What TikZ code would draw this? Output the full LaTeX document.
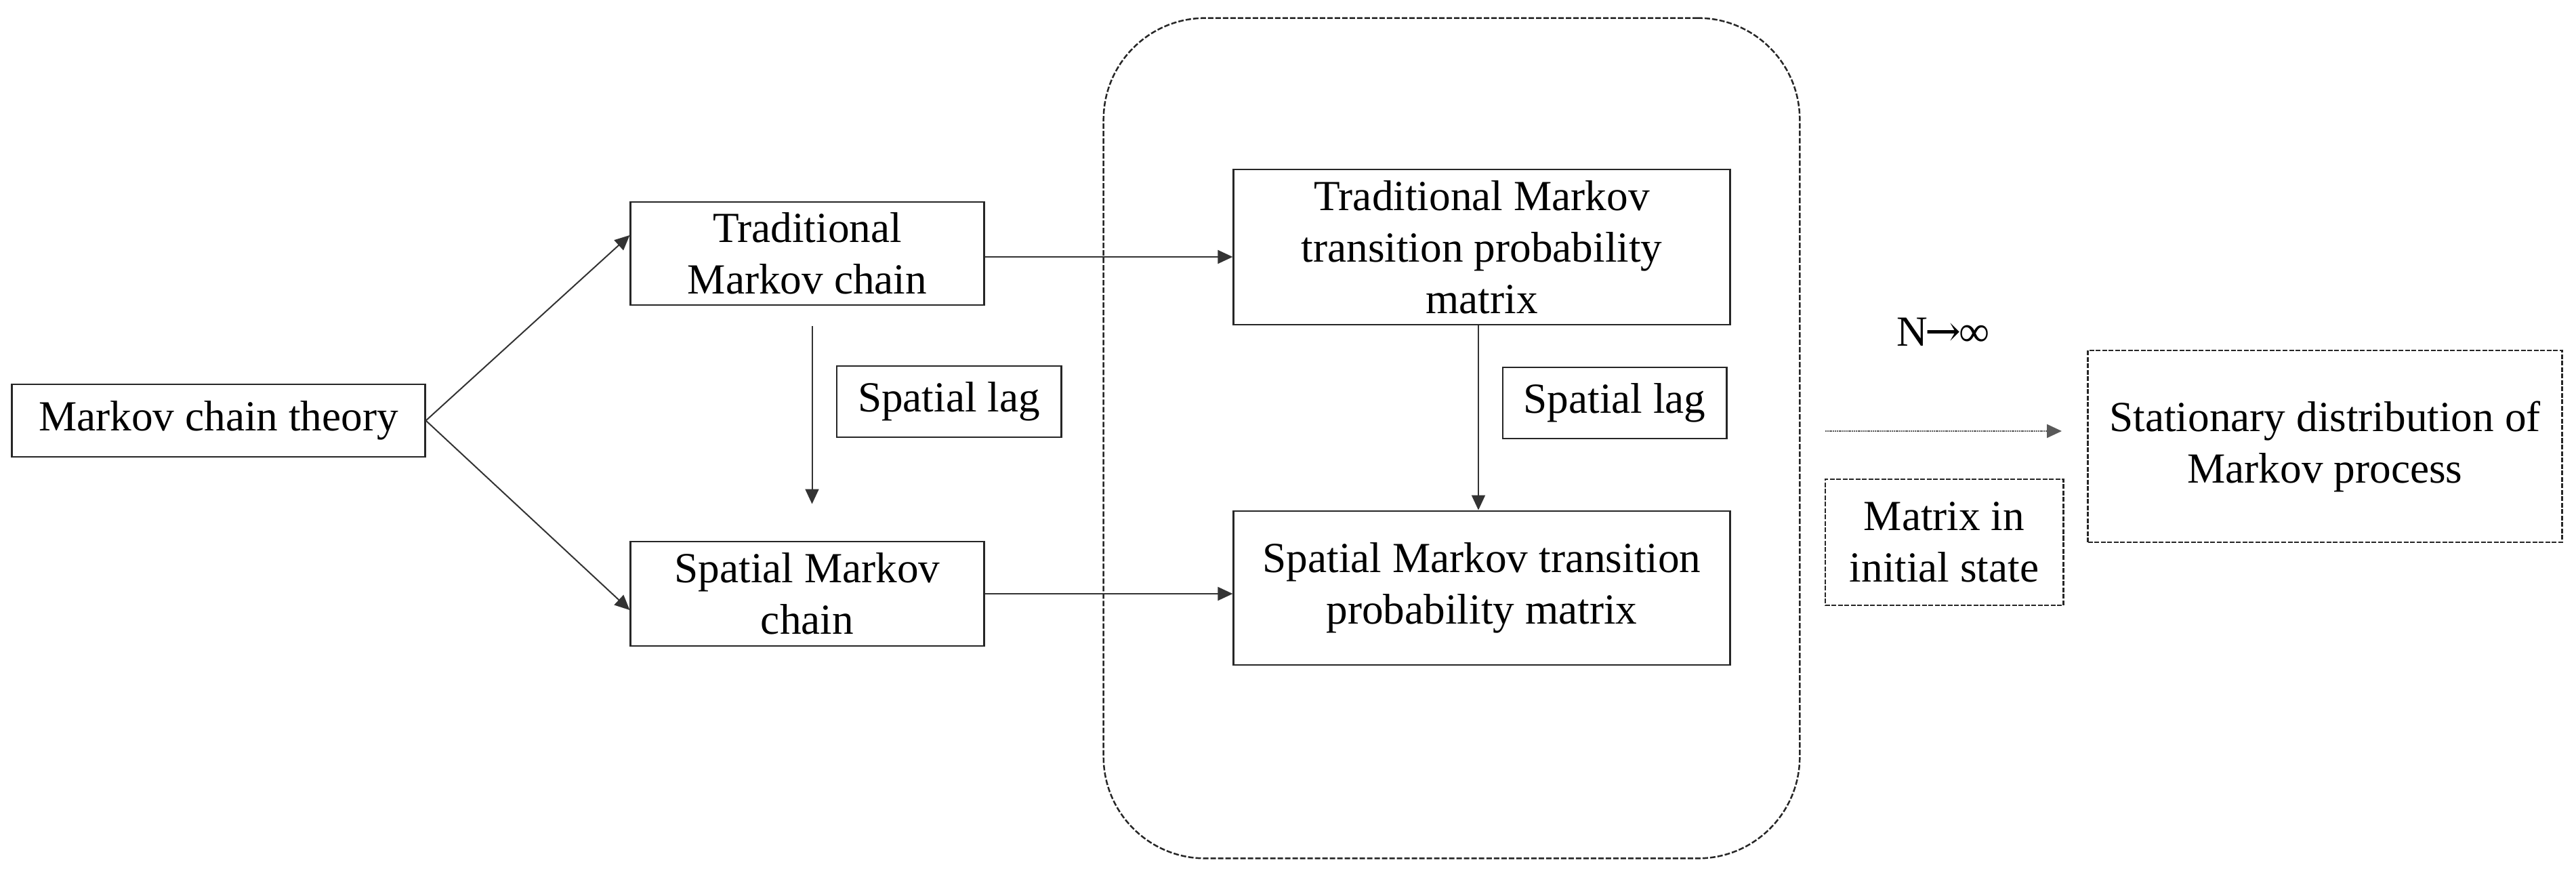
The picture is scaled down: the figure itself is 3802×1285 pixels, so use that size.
\documentclass[tikz,border=0pt]{standalone}
\usepackage{fontspec}
\setmainfont{Liberation Serif}
\newfontfamily\arrowfont{DejaVu Serif}
\usetikzlibrary{arrows.meta,calc}
\begin{document}
\begin{tikzpicture}[x=0.01cm,y=-0.01cm,
  box/.style={draw=black!85,line width=0.028cm,align=center,inner sep=0pt,font=\fontsize{18}{21.6}\selectfont},
  dbox/.style={box,dash pattern=on 0.07cm off 0.025cm},
  arr/.style={draw=black!80,line width=0.02cm,-{Triangle[length=0.22cm,width=0.2cm]}},
  darr/.style={draw=black!65,line width=0.022cm,dash pattern=on 0.02cm off 0.008cm,-{Triangle[length=0.22cm,width=0.2cm]}},
]
\useasboundingbox (0,0) rectangle (3802,1285);
% dashed container
\node[draw=black!85,line width=0.025cm,dash pattern=on 0.08cm off 0.03cm,rounded corners=1.5cm,
      minimum width=10.27cm,minimum height=12.39cm,inner sep=0pt] (frame) at (2142.5,646.5) {};
% nodes
\node[box,minimum width=6.09cm,minimum height=1.07cm] (theory) at (322.5,620.5) {Markov chain theory};
\node[box,minimum width=5.21cm,minimum height=1.52cm] (tchain) at (1191.5,374) {Traditional\\Markov chain};
\node[box,minimum width=5.21cm,minimum height=1.54cm] (schain) at (1191.5,876) {Spatial Markov\\chain};
\node[box,minimum width=3.31cm,minimum height=1.05cm] (lag1) at (1400.5,592.5) {Spatial lag};
\node[box,minimum width=7.32cm,minimum height=2.29cm] (tmat) at (2187,364.5) {Traditional Markov\\transition probability\\matrix};
\node[box,minimum width=3.30cm,minimum height=1.05cm] (lag2) at (2383,594.5) {Spatial lag};
\node[box,minimum width=7.32cm,minimum height=2.27cm] (smat) at (2187,867.5) {Spatial Markov transition\\probability matrix};
\node[font=\fontsize{18}{21.6}\selectfont,inner sep=0pt] (ninf) at (2868,490) {N{\arrowfont\kern-0.05em→\kern-0.05em}∞};
\node[dbox,minimum width=3.51cm,minimum height=1.86cm] (init) at (2869.5,800) {Matrix in\\initial state};
\node[dbox,minimum width=6.99cm,minimum height=2.83cm] (stat) at (3431.5,658.5) {Stationary distribution of\\Markov process};
% connectors
\draw[arr] (theory.east) -- ($(tchain.west)+(0,-27)$);
\draw[arr] (theory.east) -- ($(schain.west)+(0,24)$);
\draw[arr] ($(tchain.east)+(0,5)$) -- ($(tchain.east -| tmat.west)+(0,5)$);
\draw[arr] (schain.east) -- (schain.east -| smat.west);
\draw[arr] ($(tchain.south)+(7,30)$) -- ($(schain.north)+(7,-54)$);
\draw[arr] ($(tmat.south)+(-5,0)$) -- ($(smat.north)+(-5,0)$);
\coordinate (d1) at (2694,636);
\coordinate (d2) at (3043,636);
\draw[darr] (d1) -- (d2);
\end{tikzpicture}
\end{document}
